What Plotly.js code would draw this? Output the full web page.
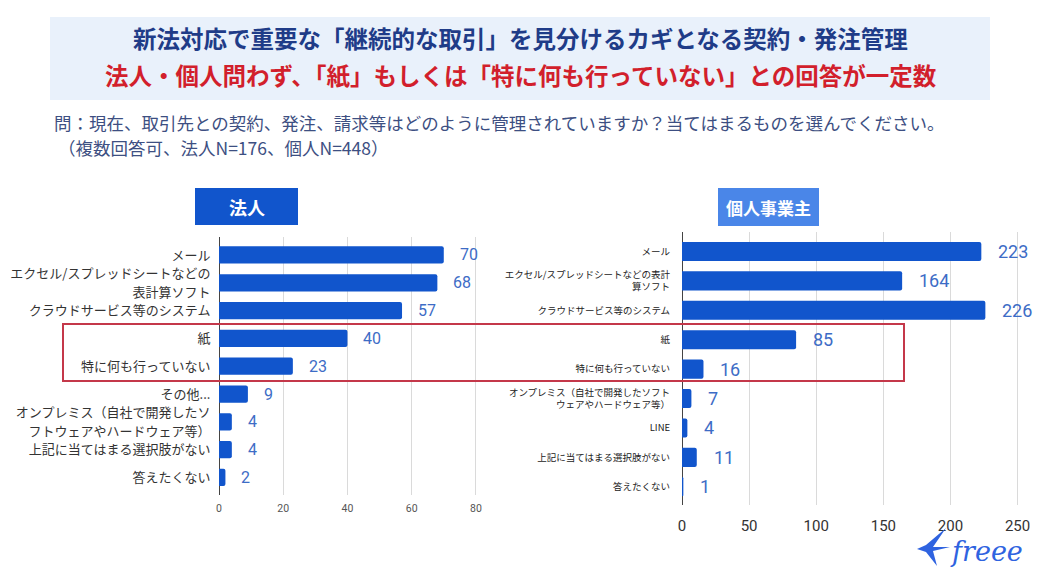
<!DOCTYPE html>
<html><head><meta charset="utf-8">
<script src="https://cdn.plot.ly/plotly-3.0.1.min.js"></script>
<style>html,body{margin:0;padding:0;background:#fff;overflow:hidden}#chart{width:1041px;height:578px}</style>
</head><body><div id="chart"></div><script>
// ---- data ----
const corpCategories = [
  "メール",
  "エクセル/スプレッドシートなどの<br>表計算ソフト",
  "クラウドサービス等のシステム",
  "紙",
  "特に何も行っていない",
  "その他...",
  "オンプレミス（自社で開発したソ<br>フトウェアやハードウェア等）",
  "上記に当てはまる選択肢がない",
  "答えたくない"
];
const corpValues = [70, 68, 57, 40, 23, 9, 4, 4, 2];
const soloCategories = [
  "メール",
  "エクセル/スプレッドシートなどの表計<br>算ソフト",
  "クラウドサービス等のシステム",
  "紙",
  "特に何も行っていない",
  "オンプレミス（自社で開発したソフト<br>ウェアやハードウェア等）",
  "LINE",
  "上記に当てはまる選択肢がない",
  "答えたくない"
];
const soloValues = [223, 164, 226, 85, 16, 7, 4, 11, 1];
const corpTicks = [0, 20, 40, 60, 80];
const soloTicks = [0, 50, 100, 150, 200, 250];
const titleLine1 = "新法対応で重要な「継続的な取引」を見分けるカギとなる契約・発注管理";
const titleLine2 = "法人・個人問わず、「紙」もしくは「特に何も行っていない」との回答が一定数";
const question1 = "問：現在、取引先との契約、発注、請求等はどのように管理されていますか？当てはまるものを選んでください。";
const question2 = "（複数回答可、法人N=176、個人N=448）";
const corpHeader = "法人";
const soloHeader = "個人事業主";
const logoText = "freee";

// ---- helpers (pixel -> paper) ----
const W = 1041, H = 578;
const px = x => x / W;
const py = y => 1 - y / H;
const JP = "Noto Sans CJK JP, Noto Sans, sans-serif";
const NUM = "Roboto, Noto Sans CJK JP, sans-serif";
const BAR = "#1155cc";
const LBL = "#3d6cc6";

const traces = [
  {type: "bar", orientation: "h", x: corpValues, y: corpCategories, xaxis: "x", yaxis: "y",
   marker: {color: BAR, cornerradius: 2}, width: 0.62, hoverinfo: "skip"},
  {type: "bar", orientation: "h", x: soloValues, y: soloCategories, xaxis: "x2", yaxis: "y2",
   marker: {color: BAR, cornerradius: 2}, width: 0.65, hoverinfo: "skip"}
];

const annotations = [];
corpValues.forEach((v, i) => annotations.push({xref: "x", yref: "y", x: v, y: corpCategories[i],
  text: String(v), showarrow: false, xanchor: "left", xshift: 14, font: {family: NUM, size: 16, color: LBL}}));
soloValues.forEach((v, i) => annotations.push({xref: "x2", yref: "y2", x: v, y: soloCategories[i],
  text: String(v), showarrow: false, xanchor: "left", xshift: 15, font: {family: NUM, size: 18, color: LBL}}));

function txt(x, y, text, size, color, opts) {
  return Object.assign({xref: "paper", yref: "paper", x: px(x), y: py(y), text: text, showarrow: false,
    xanchor: "center", yanchor: "middle", font: {family: JP, size: size, color: color}}, opts || {});
}
annotations.push(txt(520, 38, "<b>" + titleLine1 + "</b>", 23.5, "#1f3c88"));
annotations.push(txt(521, 75, "<b>" + titleLine2 + "</b>", 23.5, "#d21f2c"));
annotations.push(txt(52, 122, question1, 17.5, "#3d4f82", {xanchor: "left"}));
annotations.push(txt(56, 147, question2, 17.5, "#3d4f82", {xanchor: "left"}));
annotations.push(txt(246.5, 207, "<b>" + corpHeader + "</b>", 18, "#ffffff"));
annotations.push(txt(768.5, 207, "<b>" + soloHeader + "</b>", 17, "#ffffff"));
annotations.push(txt(948, 551, "<i>" + logoText + "</i>", 27, "#2f63e0",
  {xanchor: "left", font: {family: "DejaVu Serif, serif", size: 27, color: "#2f63e0"}}));

function path(pts) {
  return pts.map((p, i) => (i ? "L" : "M") + px(p[0]).toFixed(5) + "," + py(p[1]).toFixed(5)).join(" ") + " Z";
}

const shapes = [
  {type: "rect", xref: "paper", yref: "paper", x0: px(50), x1: px(990), y0: py(17), y1: py(100),
   fillcolor: "#e9f1fb", line: {width: 0}, layer: "below"},
  {type: "rect", xref: "paper", yref: "paper", x0: px(195), x1: px(298), y0: py(188), y1: py(225),
   fillcolor: "#1155cc", line: {width: 0}},
  {type: "rect", xref: "paper", yref: "paper", x0: px(718), x1: px(819), y0: py(188), y1: py(226),
   fillcolor: "#4a86e8", line: {width: 0}},
  {type: "rect", xref: "paper", yref: "paper", x0: px(63), x1: px(904), y0: py(324), y1: py(381),
   fillcolor: "rgba(0,0,0,0)", line: {color: "#c4384a", width: 2}, layer: "above"},
  // freee bird logo
  {type: "path", xref: "paper", yref: "paper", fillcolor: "#2f63e0", line: {width: 0},
   path: path([[917, 549], [926, 545], [946, 528], [933, 547], [950, 547], [933, 551], [937, 566], [926, 552]])}
];

const axBase = {showline: false, zeroline: true, zerolinecolor: "#444", zerolinewidth: 1,
  gridcolor: "#dadada", gridwidth: 1, fixedrange: true, automargin: false};

const layout = {
  width: W, height: H, margin: {l: 0, r: 0, t: 0, b: 0},
  paper_bgcolor: "#ffffff", plot_bgcolor: "rgba(0,0,0,0)", showlegend: false,
  xaxis: Object.assign({}, axBase, {domain: [px(219), px(508)], range: [0, 90], tickvals: corpTicks,
    ticktext: corpTicks.map(String), tickfont: {family: NUM, size: 10.5, color: "#555"}, anchor: "y",
    ticks: "outside", ticklen: 3, tickcolor: "rgba(0,0,0,0)"}),
  yaxis: {domain: [py(495), py(237)], type: "category", categoryarray: corpCategories, categoryorder: "array",
    range: [8.63, -0.647], showgrid: false, zeroline: false, anchor: "x", automargin: false, fixedrange: true,
    tickfont: {family: JP, size: 13, color: "#333"}, ticks: "outside", ticklen: 5, tickcolor: "rgba(0,0,0,0)"},
  xaxis2: Object.assign({}, axBase, {domain: [px(682), px(1031)], range: [0, 260], tickvals: soloTicks,
    ticktext: soloTicks.map(String), tickfont: {family: NUM, size: 15, color: "#333"}, anchor: "y2",
    ticks: "outside", ticklen: 7, tickcolor: "rgba(0,0,0,0)"}),
  yaxis2: {domain: [py(505), py(232)], type: "category", categoryarray: soloCategories, categoryorder: "array",
    range: [8.62, -0.663], showgrid: false, zeroline: false, anchor: "x2", automargin: false, fixedrange: true,
    tickfont: {family: JP, size: 9.5, color: "#222"}, ticks: "outside", ticklen: 9, tickcolor: "rgba(0,0,0,0)"},
  bargap: 0.35,
  annotations: annotations,
  shapes: shapes
};

Plotly.newPlot("chart", traces, layout, {displayModeBar: false, staticPlot: true}).then(gd => {
  // slightly adjust line spacing of the two-line labels on the left chart so the lines do not collide
  gd.querySelectorAll(".ytick text").forEach(t => {
    const lines = t.querySelectorAll("tspan.line");
    if (lines.length === 2) {
      lines[0].setAttribute("dy", "-0.06em");
      lines[1].setAttribute("dy", "1.42em");
    }
  });
});
</script></body></html>
